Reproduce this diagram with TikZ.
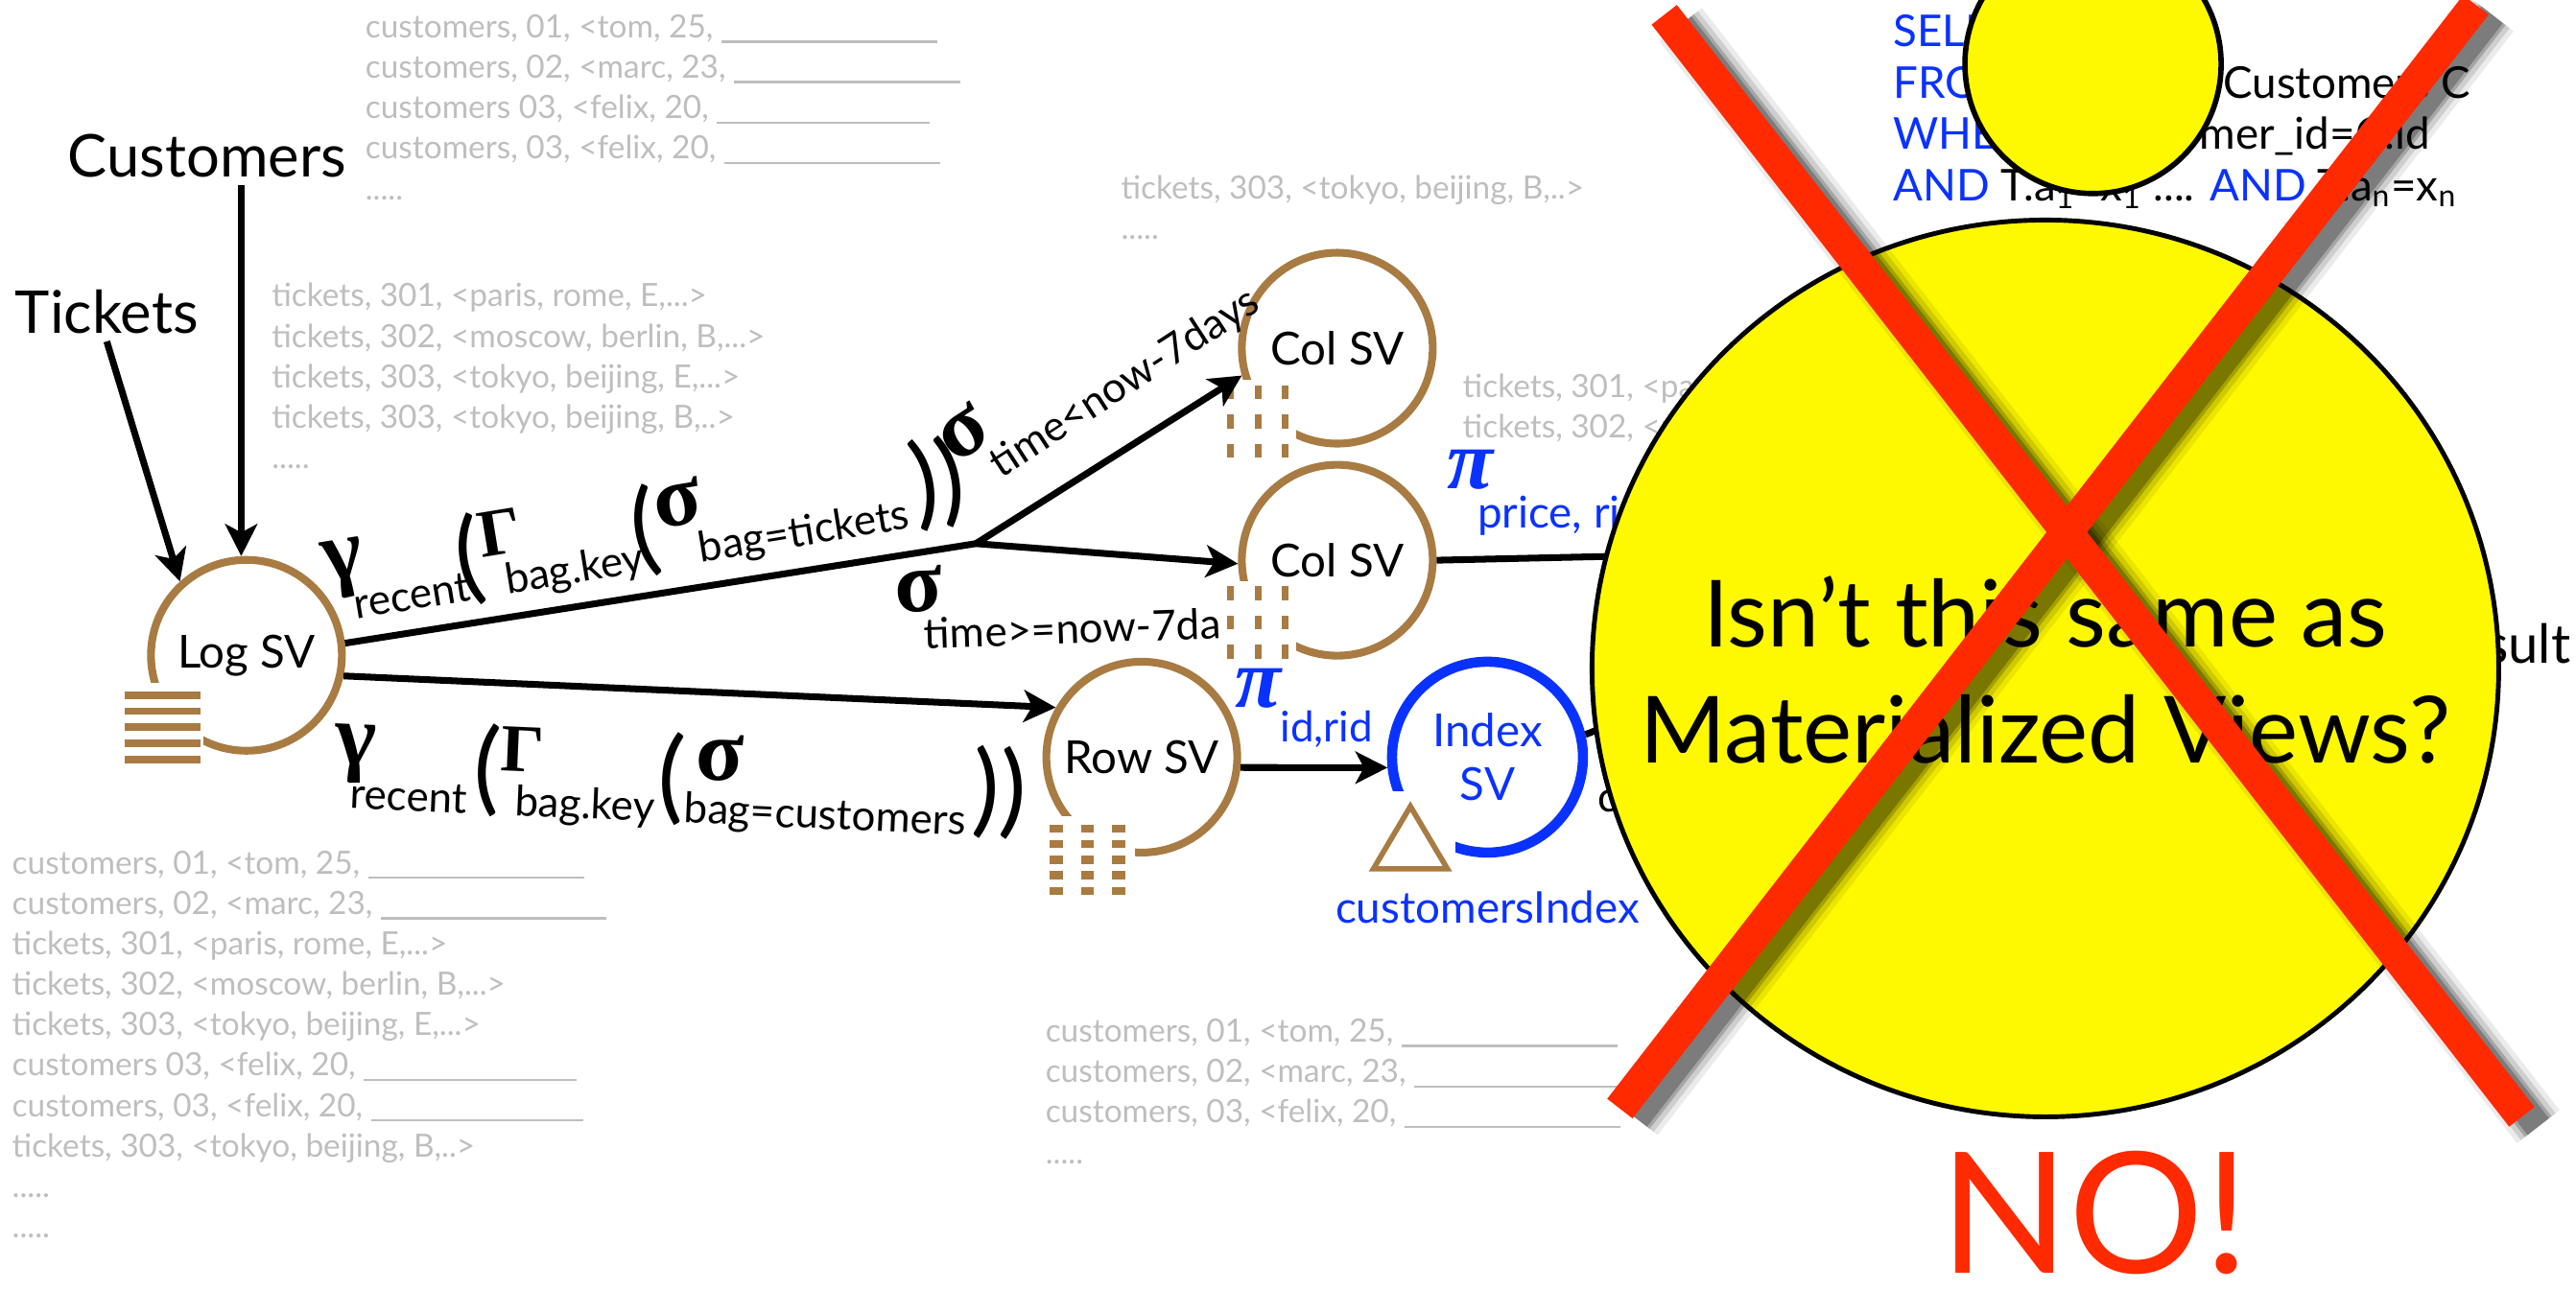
\documentclass[tikz,border=0pt]{standalone}
\usepackage{amsmath}
\usepackage{fontspec}
\setmainfont{Lato}
\newfontfamily\greekfont{Liberation Serif}
\usetikzlibrary{arrows.meta,positioning,shapes.geometric}
\definecolor{svbrown}{RGB}{168,123,67}
\definecolor{svblue}{RGB}{10,50,255}
\definecolor{rowgray}{RGB}{190,190,190}
\definecolor{qyellow}{RGB}{255,249,0}
\definecolor{nored}{RGB}{255,42,0}
\newcommand{\blank}[1]{\rule[-1.5pt]{#1}{0.7pt}}
\newcommand{\gk}[2][26]{{\greekfont\bfseries\fontsize{#1}{#1}\selectfont #2}}
\newcommand{\opsub}[2][11pt]{\raisebox{-#1}{\fontsize{12.5}{13}\selectfont #2}}
\newcommand{\opparen}[1]{\raisebox{-9.5pt}{\fontsize{30}{30}\selectfont #1}}
\newcommand{\kw}[1]{\textcolor{svblue}{#1}}

\begin{document}
\begin{tikzpicture}[x=0.17124mm, y=-0.17124mm,
  svnode/.style={circle, draw=svbrown, line width=2.3pt, minimum size=19.9mm, inner sep=0pt, font=\fontsize{13.5}{16}\selectfont},
  arrow/.style={-{Stealth[length=9.5pt,width=9.5pt,inset=2.5pt]}, line width=2pt},
  link/.style={line width=2pt},
  rows/.style={text=rowgray, font=\fontsize{9.5}{12}\selectfont, align=left, anchor=north west, inner sep=0pt},
  source/.style={font=\fontsize{17.5}{20}\selectfont, inner sep=2pt},
  oplabel/.style={inner sep=0pt, anchor=base west},
  bluelabel/.style={text=svblue, font=\fontsize{13}{15}\selectfont, inner sep=0pt},
  pilabel/.style={text=svblue, font=\greekfont\bfseries\itshape\fontsize{25}{27}\selectfont, inner sep=0pt},
  dashcol/.style={svbrown, line width=2pt, dash pattern=on 4.1pt off 4.6pt},
  xstroke/.style={nored, line width=9.5pt},
]
\useasboundingbox (0,0) rectangle (1568,785);

% stream contents
\node[rows] (custrows) at (222,8.5) {customers, 01, <tom, 25, \blank{64pt}\\customers, 02, <marc, 23, \blank{67pt}\\customers 03, <felix, 20, \blank{63pt}\\customers, 03, <felix, 20, \blank{64pt}\\.....};
\node[rows] (tickrows) at (165,172) {tickets, 301, <paris, rome, E,...>\\tickets, 302, <moscow, berlin, B,...>\\tickets, 303, <tokyo, beijing, E,...>\\tickets, 303, <tokyo, beijing, B,..>\\.....};
\node[rows] (logrows) at (7,517.5) {customers, 01, <tom, 25, \blank{64pt}\\customers, 02, <marc, 23, \blank{67pt}\\tickets, 301, <paris, rome, E,...>\\tickets, 302, <moscow, berlin, B,...>\\tickets, 303, <tokyo, beijing, E,...>\\customers 03, <felix, 20, \blank{63pt}\\customers, 03, <felix, 20, \blank{63pt}\\tickets, 303, <tokyo, beijing, B,..>\\.....\\.....};
\node[rows] (oldrows) at (682,106.5) {tickets, 303, <tokyo, beijing, B,..>\\.....};
\node[rows] (newrows) at (890,227) {tickets, 301, <paris, rome, E,...>\\tickets, 302, <moscow, berlin, B,...>};
\node[rows] (rowrows) at (636,620) {customers, 01, <tom, 25, \blank{64pt}\\customers, 02, <marc, 23, \blank{65pt}\\customers, 03, <felix, 20, \blank{64pt}\\.....};

% sources
\node[source] (cust) at (126,95) {Customers};
\node[source] (tick) at (65,190) {Tickets};

% storage views
\node[svnode] (logsv) at (150,399) {Log SV};
\node[svnode] (colold) at (814,212) {Col SV};
\node[svnode, below=1.4mm of colold] (colnew) {Col SV};
\node[svnode] (rowsv) at (695,461) {Row SV};
\node[svnode, draw=svblue, line width=3pt, right=15.2mm of rowsv, align=center, text=svblue, font=\fontsize{13.5}{16}\selectfont] (idxsv) {Index\\SV};

% operator labels
\node[oplabel, rotate=9.3] (tickexpr) at (198,355) {\gk{γ}\kern-5pt\opsub[12pt]{recent}\kern-3pt\opparen{(}\gk[20]{Γ}\kern-7pt\opsub[12pt]{bag.key}\kern-2.5pt\opparen{(}\gk{σ}\kern-3pt\opsub[12pt]{bag=tickets}\kern2pt\opparen{))}};
\node[oplabel, rotate=-2.5] (custexpr) at (203,465) {\gk{γ}\kern-7pt\opsub[13pt]{recent}\kern1.5pt\opparen{(}\gk[20]{Γ}\kern-8pt\opsub[13pt]{bag.key}\kern0.5pt\opparen{(}\kern3pt\gk{σ}\kern-17pt\opsub[13pt]{bag=customers}\kern1.5pt\opparen{))}};
\node[oplabel, rotate=33] (oldsel) at (581,283) {\gk{σ}\kern-5pt\opsub[11pt]{time<now-7days}};
\node[oplabel, rotate=2] (newsel) at (545,373) {\gk{σ}\kern-6pt\opsub[11pt]{time>=now-7days}};
\node[bluelabel, anchor=west] (pricecols) at (899,314) {price, rid};
\node[bluelabel, anchor=west, font=\fontsize{12.5}{14}\selectfont] (idcols) at (779,444) {id,rid};
\node[bluelabel, below=3.4mm of idxsv] (idxname) {customersIndex};
\node[inner sep=0pt, anchor=west, text=nored, font=\greekfont\bfseries\fontsize{24}{24}\selectfont] (joinop) at (973,466) {σ};
\node[inner sep=0pt, anchor=west, font=\fontsize{12.5}{13}\selectfont] (joincond) at (972,488) {c};

% layout icons
\fill[white] (74,416) rectangle (124,467);
\foreach \i in {0,...,4}
  \fill[svbrown] (76,{421+9.8*\i}) rectangle (122,{425.5+9.8*\i});
\foreach \t in {234.5,357} {
  \fill[white] (742,{\t-3}) rectangle (789,{\t+48});
  \foreach \x in {749,766,782}
    \draw[dashcol] (\x,\t) -- (\x,{\t+45});
}
\fill[white] (633,497) rectangle (691,550);
\foreach \x in {639,658,677}
  \foreach \y in {502,511.5,521,530.5,540}
    \fill[svbrown] (\x,\y) rectangle ++(8,5);
\fill[white] (830,482) rectangle (886,534);
\draw[svbrown, line width=1.6pt] (836,529) -- (881,529) -- (858.5,491) -- cycle;
\node[pilabel] (piprice) at (895,286) {π};
\node[pilabel] (piid) at (766,419) {π};

% connectors
\coordinate (fork) at (594,331);
\coordinate (colout) at (1060,337);
\coordinate (idxout) at (1052,413);
\draw[arrow] (cust.south -| logsv.93) -- (logsv.93);
\draw[arrow] (tick.south) -- (logsv.132);
\draw[link] (logsv.7) -- (fork);
\draw[arrow] (fork) -- (colold.196);
\draw[arrow] (fork) -- (colnew.182);
\draw[arrow] (logsv.-12) -- (rowsv.150);
\draw[arrow] (rowsv.-6) -- (idxsv.186);
\draw[link] (colnew.east) -- (colout);
\draw[link] (idxsv.13) -- (idxout);

% query
\node[anchor=north west, align=left, inner sep=0pt, font=\fontsize{13}{15.2}\selectfont] (query) at (1152,8) {\kw{SELECT} *\\\kw{FROM} Tickets T, Customers C\\\kw{WHERE} T.customer\_id=C.id\\\kw{AND} T.a\textsubscript{1}=x\textsubscript{1} .... \kw{AND} T.a\textsubscript{n}=x\textsubscript{n}};
\node[anchor=base east, inner sep=0pt, font=\fontsize{16}{18}\selectfont] (result) at (1565,404) {Result};

% the bubble
\node[ellipse, draw, line width=1.6pt, fill=qyellow, minimum width=26.7mm, minimum height=27mm, inner sep=0pt] (head) at (1274,39) {};
\node[ellipse, draw, line width=1.4pt, fill=qyellow, minimum width=94.5mm, minimum height=93.5mm, inner sep=0pt] (bubble) at (1245,407) {};
\node[align=center, inner sep=0pt, font=\fontsize{27.5}{34.5}\selectfont] (question) at (1245,408) {Isn’t this same as\\Materialized Views?};

% the cross
\coordinate (xa1) at (1013,9);
\coordinate (xa2) at (1535,680);
\coordinate (xb1) at (1507,3);
\coordinate (xb2) at (986,675);
\foreach \w/\o in {16pt/.08, 13pt/.12, 10pt/.2, 8pt/.25} {
  \draw[black, opacity=\o, line width=\w] ([shift={(10,6)}]xa1) -- ([shift={(10,6)}]xa2);
  \draw[black, opacity=\o, line width=\w] ([shift={(10,6)}]xb1) -- ([shift={(10,6)}]xb2);
}
\draw[xstroke] (xa1) -- (xa2);
\draw[xstroke] (xb1) -- (xb2);
\node[anchor=base, inner sep=0pt, text=nored, font=\fontsize{50}{50}\selectfont] (no) at (1275,775) {NO!};
\end{tikzpicture}
\end{document}
